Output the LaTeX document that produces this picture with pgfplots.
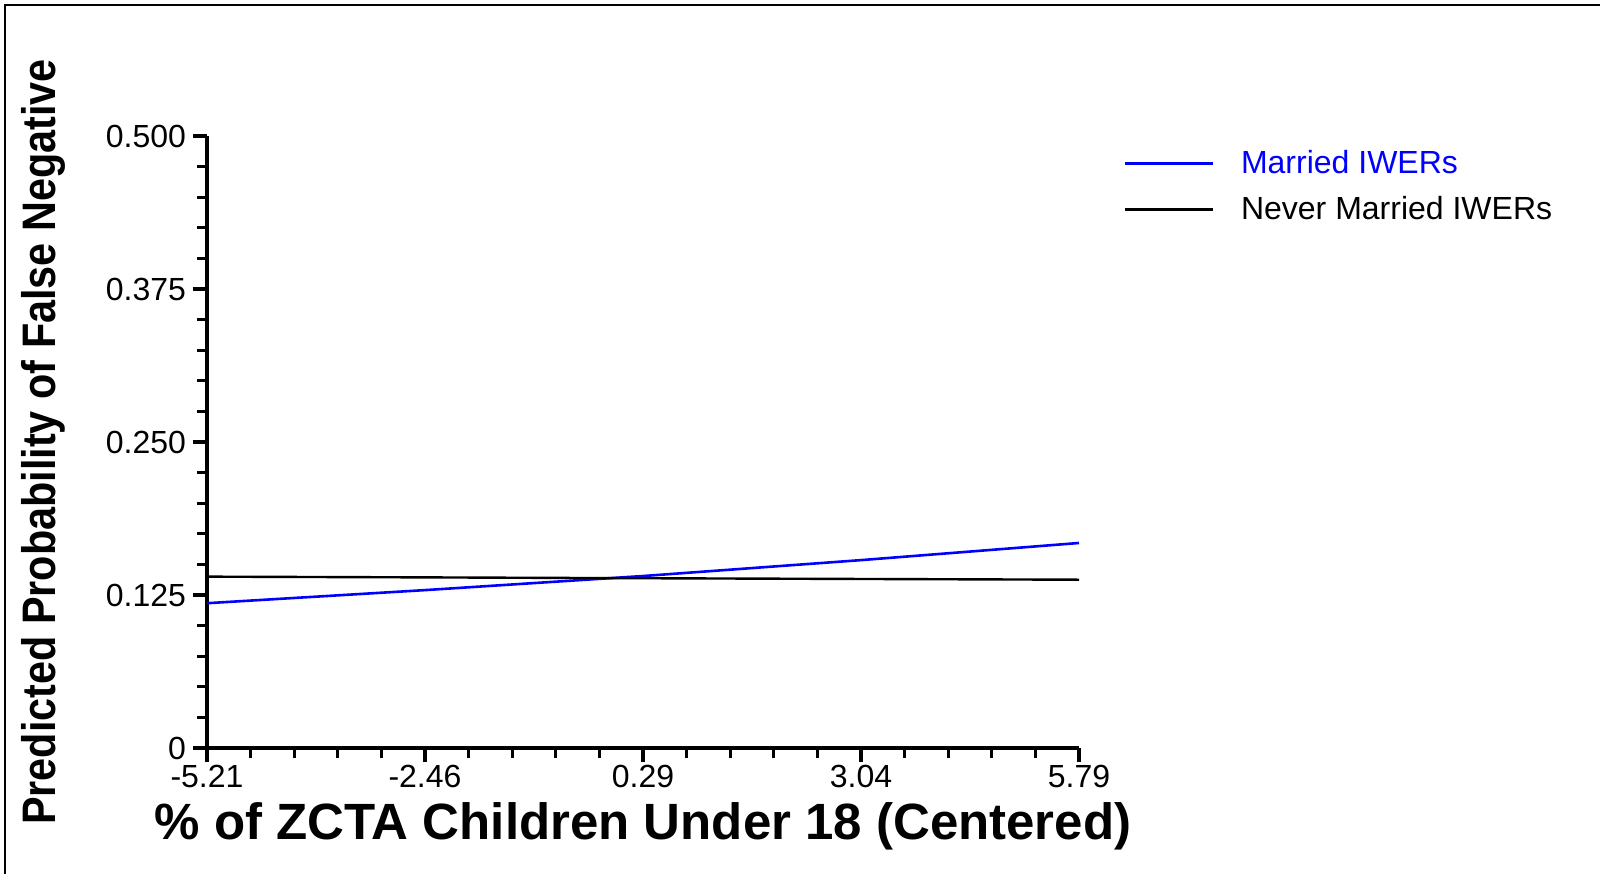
\documentclass[border=0pt]{standalone}
\usepackage{pgfplots}
\pgfplotsset{compat=1.18}
\usepackage{fontspec}
\setmainfont{Liberation Sans}
\definecolor{pureblue}{RGB}{0,0,255}
\begin{document}
\begin{tikzpicture}
\path[use as bounding box] (-103.5pt,-63pt) rectangle (696.5pt,374pt);
\draw[line width=1pt] (-101pt,-63pt) -- (-101pt,371.5pt) -- (696.5pt,371.5pt);
\begin{axis}[
  at={(0,0)}, anchor=south west,
  scale only axis, width=436pt, height=306pt,
  xmin=-5.21, xmax=5.79, ymin=0, ymax=0.5,
  axis lines*=left,
  axis line style={line width=1.6pt},
  every tick/.style={black, line width=1.6pt},
  tick align=outside,
  major tick length=7pt, minor tick length=5pt,
  xtick={-5.21,-2.46,0.29,3.04,5.79},
  xticklabels={-5.21,-2.46,0.29,3.04,5.79},
  minor x tick num=4,
  ytick={0,0.125,0.25,0.375,0.5},
  yticklabels={0,0.125,0.250,0.375,0.500},
  minor y tick num=4,
  tick label style={font=\fontsize{16}{18}\selectfont},
  xticklabel style={yshift=2pt},
  xlabel={\% of ZCTA Children Under 18 (Centered)},
  xlabel style={at={(axis description cs:0.5,-0.128)}, anchor=center, font=\bfseries\fontsize{25.5}{28}\selectfont},
  ylabel={\scalebox{0.88}[1]{Predicted Probability of False Negative}},
  ylabel style={at={(axis description cs:-0.188,0.5)}, anchor=center, font=\bfseries\fontsize{23.5}{26}\selectfont},
  legend style={at={(axis description cs:1.0505,0.984)}, anchor=north west, draw=none, fill=none,
    font=\fontsize{16}{18}\selectfont, row sep=6pt, column sep=3.5pt, inner sep=0pt,
    nodes={inner xsep=10pt}},
  legend cell align=left,
  legend image code/.code={\draw[#1] (0pt,0pt) -- (44pt,0pt);},
  clip=false,
]
\addplot[pureblue, line width=1.3pt] coordinates {(-5.21,0.1183) (-2.46,0.1290) (0.29,0.1405) (3.04,0.1535) (5.79,0.1675)};
\addlegendentry{\textcolor{pureblue}{Married IWERs}}
\addplot[black, line width=1.2pt] coordinates {(-5.21,0.1400) (-2.46,0.1394) (0.29,0.1387) (3.04,0.1381) (5.79,0.1375)};
\addlegendentry{Never Married IWERs}
\end{axis}
\end{tikzpicture}
\end{document}
